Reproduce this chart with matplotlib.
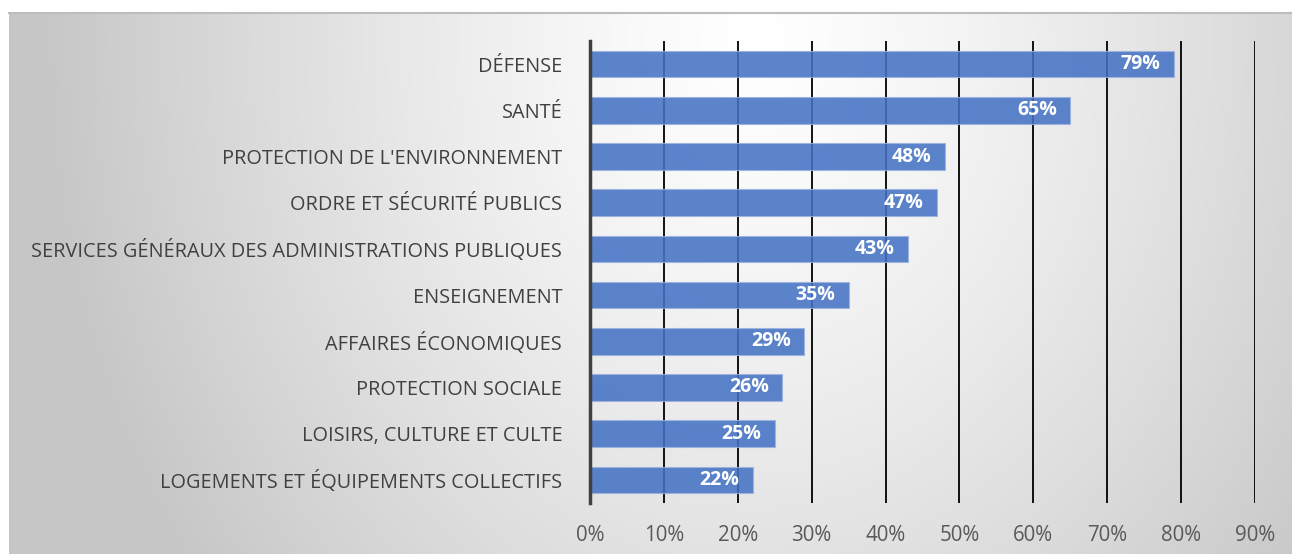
import numpy as np
import matplotlib
matplotlib.use("Agg")
import matplotlib.pyplot as plt
from matplotlib.ticker import FuncFormatter

categories = [
    "DÉFENSE",
    "SANTÉ",
    "PROTECTION DE L'ENVIRONNEMENT",
    "ORDRE ET SÉCURITÉ PUBLICS",
    "SERVICES GÉNÉRAUX DES ADMINISTRATIONS PUBLIQUES",
    "ENSEIGNEMENT",
    "AFFAIRES ÉCONOMIQUES",
    "PROTECTION SOCIALE",
    "LOISIRS, CULTURE ET CULTE",
    "LOGEMENTS ET ÉQUIPEMENTS COLLECTIFS",
]
values = [79, 65, 48, 47, 43, 35, 29, 26, 25, 22]
xticks = [0, 10, 20, 30, 40, 50, 60, 70, 80, 90]

plt.rcParams['font.family'] = ['Open Sans', 'DejaVu Sans']

W, H = 1292, 554
fig = plt.figure(figsize=(W / 100, H / 100), dpi=100)
fig.patch.set_facecolor('white')

# background panel with radial gradient
bx0, by0 = 9, 13
bg = fig.add_axes([bx0 / W, 0, (W - bx0) / W, (H - by0) / H])
ny, nx = 270, 640
yy, xx = np.mgrid[0:ny, 0:nx]
cx, cy = nx * 0.58, ny * 0.05
d = np.sqrt(((xx - cx) / (nx * 0.55)) ** 2 + ((yy - cy) / (ny * 1.6)) ** 2)
d = np.clip(d, 0, 1)
val = 1.0 - 0.22 * d ** 1.3
img = np.dstack([val, val, val])
bg.imshow(img, aspect='auto', extent=[0, 1, 0, 1], origin='upper')
bg.set_xlim(0, 1); bg.set_ylim(0, 1)
bg.set_xticks([]); bg.set_yticks([])
for s in ['left', 'right', 'bottom']:
    bg.spines[s].set_visible(False)
bg.spines['top'].set_color('#bdbdbd')
bg.spines['top'].set_linewidth(1.5)

# main axes
x0, x1 = 590, 1255
y_top, y_bot = 41, 503
ax = fig.add_axes([x0 / W, 1 - y_bot / H, (x1 - x0) / W, (y_bot - y_top) / H])
ax.set_facecolor('none')
n = len(categories)
ypos = np.arange(n)
bars = ax.barh(ypos, values, height=0.58, color='#4472C4', alpha=0.87,
               edgecolor='#9db3e0', linewidth=0.8, zorder=2)
ax.set_ylim(n - 0.5, -0.5)
ax.set_xlim(0, 90)
ax.set_xticks(xticks)
ax.xaxis.set_major_formatter(FuncFormatter(lambda v, p: f"{int(v)}%"))
ax.set_yticks(ypos)
ax.set_yticklabels(categories)
ax.grid(axis='x', color='black', linewidth=1.3, zorder=1)
ax.set_axisbelow(True)
for s in ['top', 'right', 'bottom']:
    ax.spines[s].set_visible(False)
ax.spines['left'].set_color('#404040')
ax.spines['left'].set_linewidth(2.5)
ax.tick_params(axis='both', length=0)
ax.tick_params(axis='y', pad=20, labelsize=14.3, labelcolor='#404040')
ax.tick_params(axis='x', pad=16, labelsize=14.8, labelcolor='#595959')

for b, v in zip(bars, values):
    ax.text(b.get_width() - 1.8, b.get_y() + b.get_height() / 2, f"{v}%",
            ha='right', va='center', color='white', fontsize=14,
            fontweight='bold', zorder=3)

fig.savefig('out.png', dpi=100)
